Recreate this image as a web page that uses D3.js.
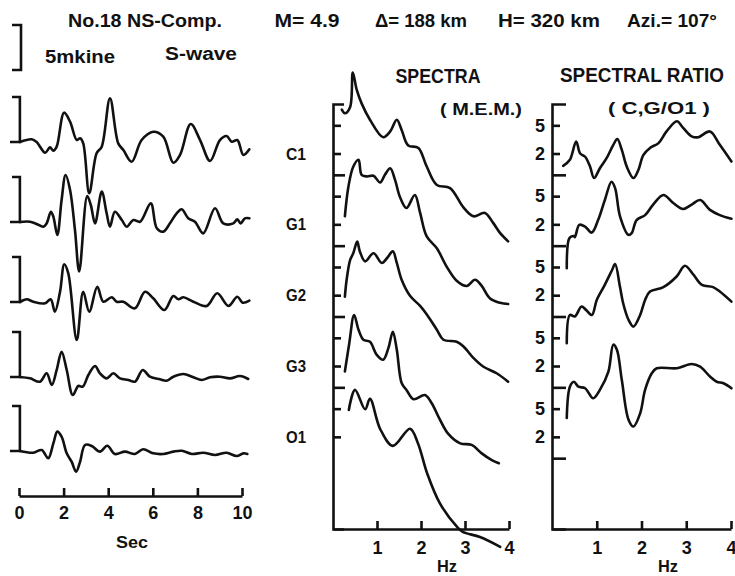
<!DOCTYPE html>
<html>
<head>
<meta charset="utf-8">
<script src="https://cdn.jsdelivr.net/npm/d3@7"></script>
<style>
  body { margin: 0; background: #fff; }
  text { font-family: "Liberation Sans", Arial, sans-serif; font-weight: bold; fill: #111; }
</style>
</head>
<body>
<svg id="fig" width="735" height="576"></svg>
<script>
// ---- data ----
var stations = ['C1', 'G1', 'G2', 'G3', 'O1'];

// S-wave records, [time (s), amplitude (mkine)]
var waveC1 = [[0.04,0],[0.57,0.3],[0.79,0],[1.17,-1.19],[1.39,-0.59],[1.54,-0.97],[1.69,-0.52],[2.02,3.26],[2.29,2.26],[2.59,0.22],[2.74,0.41],[2.88,-0.15],[3.15,-5.7],[3.48,-1.26],[3.71,-0.52],[4.08,4.85],[4.45,-0.15],[4.68,-0.89],[5.05,-2.19],[5.5,0.22],[6.02,1.14],[6.47,0.59],[6.92,-2.3],[7.22,-1.44],[7.7,2.0],[8.12,0.22],[8.57,-2.11],[9.01,0.22],[9.31,0.67],[9.54,0.03],[9.79,0.22],[10.06,-1.44],[10.33,-0.81]];
var waveG1 = [[0.04,0],[0.49,0.03],[0.79,-0.22],[1.09,-0.52],[1.24,-0.15],[1.43,1.14],[1.54,0.59],[1.72,-1.44],[1.91,2.44],[2.09,5.22],[2.29,3.56],[2.51,-0.89],[2.7,-5.5],[3.06,2.89],[3.22,1.89],[3.41,-0.15],[3.71,3.37],[3.93,0.97],[4.08,-0.52],[4.3,1.14],[4.61,0.22],[4.83,-0.52],[5.13,0.22],[5.43,0.03],[5.91,2.07],[6.18,-0.7],[6.47,-1.07],[6.77,-0.15],[7.07,0.97],[7.3,1.41],[7.59,0.41],[7.89,0.03],[8.26,-1.26],[8.79,1.52],[9.16,-0.15],[9.61,-0.15],[9.79,0.3],[9.94,-0.15],[10.13,0.41],[10.33,0.41]];
var waveG2 = [[0.04,0],[0.35,0.3],[0.64,0.03],[1.17,-0.15],[1.42,0.3],[1.61,-1.07],[1.84,1.14],[2.03,4.2],[2.21,3.19],[2.59,-4.22],[2.88,1.14],[3.15,-1.07],[3.51,1.7],[3.78,0.03],[4.16,0.52],[4.38,0.03],[4.68,0.03],[5.2,-0.7],[5.65,1.14],[6.02,0.41],[6.52,-0.89],[6.92,0.67],[7.15,0.3],[7.37,0.52],[7.82,0.03],[8.42,-0.44],[8.89,0.97],[9.39,-0.44],[9.79,0.59],[10.03,-0.07],[10.33,0.15]];
var waveG3 = [[0.04,0],[0.49,-0.15],[0.94,-0.52],[1.24,0.41],[1.47,-0.89],[1.69,0.78],[1.91,2.81],[2.14,0.78],[2.41,-2.0],[2.66,-1.0],[2.86,-1.07],[3.11,0.22],[3.41,1.22],[3.63,0.41],[3.93,-0.15],[4.23,0.41],[4.53,-0.15],[4.9,-0.33],[5.2,-0.52],[5.55,0.78],[5.87,0.03],[6.32,-0.26],[6.62,-0.41],[6.92,0.03],[7.37,0.33],[7.82,-0.03],[8.19,-0.33],[8.57,-0.03],[9.01,0.03],[9.46,-0.15],[9.91,0.11],[10.28,-0.22]];
var waveO1 = [[0.04,0],[0.64,-0.19],[1.02,0.11],[1.31,-0.81],[1.54,0.85],[1.72,2.15],[1.91,1.59],[2.14,-0.26],[2.36,-1.19],[2.56,-2.3],[2.74,-1.19],[2.96,0.67],[3.26,0.56],[3.63,-0.07],[3.96,0.59],[4.3,-0.33],[4.75,-0.07],[5.2,-0.33],[5.57,0.19],[6.02,-0.26],[6.47,-0.33],[6.92,-0.07],[7.3,0.03],[7.75,-0.33],[8.26,-0.19],[8.79,-0.44],[9.31,-0.19],[9.76,-0.56],[10.06,-0.26],[10.24,-0.33]];

// M.E.M. spectra, [frequency (Hz), relative amplitude]; each trace is shifted down one decade
var specC1 = [[0.2,8.3],[0.27,7.4],[0.39,9.1],[0.45,27.9],[0.54,15.8],[0.65,10.2],[0.84,6.0],[1.14,3.4],[1.3,4.1],[1.45,6.0],[1.56,4.3],[1.71,2.6],[1.94,2.4],[2.13,1.31],[2.36,0.72],[2.66,0.65],[2.96,0.35],[3.19,0.26],[3.45,0.29],[3.64,0.21],[3.8,0.15],[3.98,0.115]];
var specG1 = [[0.27,2.6],[0.35,6.8],[0.46,13.0],[0.58,16.3],[0.65,10.0],[0.77,9.5],[0.92,9.7],[1.07,7.8],[1.18,10.0],[1.3,12.4],[1.41,8.5],[1.52,4.9],[1.67,3.4],[1.86,5.2],[1.98,2.9],[2.13,1.35],[2.36,0.92],[2.58,0.51],[2.81,0.32],[3.04,0.27],[3.23,0.33],[3.38,0.27],[3.57,0.18],[3.8,0.156],[3.98,0.15]];
var specG2 = [[0.27,1.9],[0.31,3.3],[0.39,6.3],[0.46,7.8],[0.55,11.4],[0.61,8.3],[0.73,6.0],[0.92,7.8],[1.11,5.7],[1.23,6.7],[1.36,8.3],[1.45,5.7],[1.56,3.3],[1.75,1.96],[1.98,1.41],[2.14,1.05],[2.36,0.65],[2.51,0.47],[2.81,0.44],[2.96,0.38],[3.19,0.26],[3.42,0.195],[3.72,0.158],[3.98,0.12]];
var specG3 = [[0.27,1.67],[0.37,4.2],[0.48,10.5],[0.58,6.5],[0.69,4.7],[0.84,4.4],[0.99,2.9],[1.14,2.45],[1.26,3.6],[1.36,6.1],[1.45,3.4],[1.56,1.15],[1.67,0.92],[1.83,0.68],[2.09,0.78],[2.24,0.6],[2.43,0.35],[2.62,0.22],[2.89,0.162],[3.15,0.154],[3.38,0.117],[3.61,0.094],[3.77,0.085]];
var specO1 = [[0.36,4.8],[0.5,9.2],[0.73,4.9],[0.84,6.9],[1.07,2.6],[1.36,1.49],[1.75,2.6],[1.93,1.63],[2.14,0.61],[2.43,0.23],[2.82,0.107],[2.95,0.091],[3.34,0.077],[3.8,0.056]];

// spectral ratios to O1, [frequency (Hz), ratio]
var ratioC1 = [[0.25,1.34],[0.4,1.63],[0.54,2.95],[0.63,2.0],[0.74,1.8],[0.85,1.31],[0.94,0.9],[1.07,1.24],[1.22,1.72],[1.37,2.65],[1.46,3.2],[1.56,2.25],[1.67,1.31],[1.82,0.9],[1.93,1.17],[2.04,1.9],[2.19,2.4],[2.38,2.8],[2.56,4.1],[2.79,5.7],[2.93,4.6],[3.12,3.5],[3.27,3.4],[3.53,4.1],[3.75,2.65],[4.01,1.54]];
var ratioG1 = [[0.33,0.48],[0.39,1.28],[0.48,1.37],[0.51,1.32],[0.61,1.97],[0.74,1.86],[0.89,1.53],[1.03,2.3],[1.18,4.4],[1.33,8.0],[1.41,6.5],[1.52,2.6],[1.71,1.42],[1.78,1.5],[1.89,2.3],[2.08,2.7],[2.26,3.8],[2.49,5.2],[2.71,4.0],[2.93,3.3],[3.12,3.8],[3.31,4.4],[3.53,3.2],[3.75,2.7],[4.01,2.4]];
var ratioG2 = [[0.33,0.42],[0.4,1.05],[0.51,1.0],[0.66,1.38],[0.76,1.24],[0.89,1.05],[1.0,1.71],[1.18,2.8],[1.34,4.5],[1.41,5.5],[1.52,2.6],[1.59,1.54],[1.71,0.9],[1.82,0.72],[1.97,1.05],[2.08,1.71],[2.19,2.25],[2.49,2.6],[2.79,3.7],[2.97,5.2],[3.16,3.9],[3.35,2.8],[3.6,2.6],[3.75,2.25],[4.01,1.62]];
var ratioG3 = [[0.33,0.37],[0.4,1.02],[0.49,1.2],[0.59,1.02],[0.74,0.97],[0.92,0.7],[1.07,0.92],[1.26,1.67],[1.37,4.0],[1.45,3.4],[1.56,1.27],[1.71,0.35],[1.82,0.28],[1.97,0.43],[2.08,0.92],[2.23,1.58],[2.34,1.86],[2.79,1.86],[3.12,2.14],[3.31,1.96],[3.53,1.42],[3.68,1.2],[3.83,1.14],[4.01,0.97]];

var timeTicks = [0, 2, 4, 6, 8, 10];
var freqTicks = [1, 2, 3, 4];
var decadeMarks = [5, 2];   // labelled ticks inside each decade

var waves = [waveC1, waveG1, waveG2, waveG3, waveO1];
var spectra = [specC1, specG1, specG2, specG3, specO1];
var ratios = [ratioC1, ratioG1, ratioG2, ratioG3];

// ---- layout ----
var svg = d3.select('#fig');
var ink = '#111';
var lw = 2.6;

var traceBase = [142, 222, 302, 377, 451];
var xTime = d3.scaleLinear().domain([0, 10]).range([19, 242]);
var amp = d3.scaleLinear().domain([0, 5]).range([0, -45]);   // 5 mkine bracket
var xSpec = d3.scaleLinear().domain([0, 4]).range([333, 509]);
var xRat = d3.scaleLinear().domain([0, 4]).range([552, 731]);
// stacked log scale: u = log10(value) - k, one decade per trace
var yLog = d3.scaleLinear().domain([1, -5]).range([104, 529]);

function txt(s, x, y, size, len, anchor) {
  var t = svg.append('text')
    .attr('x', x).attr('y', y)
    .attr('font-size', size)
    .attr('text-anchor', anchor || 'middle')
    .text(s);
  if (len) t.attr('textLength', len).attr('lengthAdjust', 'spacingAndGlyphs');
  return t;
}

function styleAxis(g, size) {
  g.selectAll('path, line').attr('stroke', ink).attr('stroke-width', lw);
  g.selectAll('text').attr('font-size', size).attr('font-family', null).attr('fill', ink);
  g.attr('font-family', null);
}

// header
txt('No.18 NS-Comp.', 145, 27, 18, 154);
txt('M= 4.9', 307, 27, 18, 65);
txt('\u0394= 188 km', 421, 27, 18, 92);
txt('H= 320 km', 549, 27, 18, 102);
txt('Azi.= 107\u00b0', 672, 27, 18, 90);
txt('5mkine', 80, 63, 18, 70);
txt('S-wave', 201, 60, 18, 72);

// scale bar
svg.append('path')
  .attr('d', 'M12,' + 25 + 'H21V' + (25 - amp(5)) + 'H12')
  .attr('fill', 'none').attr('stroke', ink).attr('stroke-width', lw);

// waveforms
var wline = d3.line().curve(d3.curveCatmullRom.alpha(0.5));
waves.forEach(function(w, i) {
  var b = traceBase[i];
  // bracket + lead-in
  svg.append('path')
    .attr('d', 'M12,' + (b + amp(5)) + 'H' + xTime(0.04) + 'V' + b + 'H10')
    .attr('fill', 'none').attr('stroke', ink).attr('stroke-width', lw);
  svg.append('path')
    .attr('d', wline(w.map(function(p) { return [xTime(p[0]), b + amp(p[1])]; })))
    .attr('fill', 'none').attr('stroke', ink).attr('stroke-width', lw)
    .attr('stroke-linejoin', 'round').attr('stroke-linecap', 'round');
});

var gt = svg.append('g').attr('transform', 'translate(0,496)')
  .call(d3.axisBottom(xTime).tickValues(timeTicks).tickSize(-8).tickSizeOuter(0).tickPadding(10));
styleAxis(gt, 18);
txt('Sec', 132, 548, 17, 32);

// station labels
stations.forEach(function(s, k) {
  txt(s, 296, yLog(Math.log10(2) - k) + 6, 17, 20);
});

// shared y ticks
function decadeTicks(n) {
  var v = [];
  for (var k = 0; k < n; k++) decadeMarks.forEach(function(m) { v.push(Math.log10(m) - k); });
  return v;
}
function unitTicks(n) {
  return d3.range(n).map(function(k) { return -k; });
}

var sline = d3.line().curve(d3.curveCatmullRom.alpha(0.5));

// ---- spectra panel ----
txt('SPECTRA', 438, 83, 20, 85);
txt('( M.E.M.)', 481, 115, 17, 82);

var gsy = svg.append('g').attr('transform', 'translate(333,0)')
  .call(d3.axisLeft(yLog).tickValues(decadeTicks(5)).tickSize(-8).tickSizeOuter(-11).tickFormat(''));
styleAxis(gsy, 16);
var gsy2 = svg.append('g').attr('transform', 'translate(333,0)')
  .call(d3.axisLeft(yLog).tickValues(unitTicks(4)).tickSize(-12).tickSizeOuter(0).tickFormat(''));
styleAxis(gsy2, 16);
gsy2.select('.domain').remove();

var gsx = svg.append('g').attr('transform', 'translate(0,529)')
  .call(d3.axisBottom(xSpec).tickValues(freqTicks).tickSize(-8).tickSizeOuter(0).tickPadding(12)
    .tickFormat(d3.format('d')));
styleAxis(gsx, 18);
txt('Hz', 447, 572, 17, 20);

spectra.forEach(function(s, k) {
  svg.append('path')
    .attr('d', sline(s.map(function(p) { return [xSpec(p[0]), yLog(Math.log10(p[1]) - k)]; })))
    .attr('fill', 'none').attr('stroke', ink).attr('stroke-width', lw)
    .attr('stroke-linejoin', 'round').attr('stroke-linecap', 'round');
});

// ---- spectral ratio panel ----
txt('SPECTRAL RATIO', 642, 82, 20, 164);
txt('( C,G/O1 )', 659, 114, 17, 102);

var gry = svg.append('g').attr('transform', 'translate(552,0)')
  .call(d3.axisLeft(yLog).tickValues(decadeTicks(5)).tickSize(-8).tickSizeOuter(-14).tickPadding(7)
    .tickFormat(function(d) { return Math.round(Math.pow(10, d - Math.floor(d))); }));
styleAxis(gry, 18);
var gry2 = svg.append('g').attr('transform', 'translate(552,0)')
  .call(d3.axisLeft(yLog).tickValues(unitTicks(5)).tickSize(-14).tickSizeOuter(0).tickFormat(''));
styleAxis(gry2, 16);
gry2.select('.domain').remove();

var grx = svg.append('g').attr('transform', 'translate(0,529)')
  .call(d3.axisBottom(xRat).tickValues(freqTicks).tickSize(-8).tickSizeOuter(0).tickPadding(12)
    .tickFormat(d3.format('d')));
styleAxis(grx, 18);
// last label sits against the right edge of the page
grx.selectAll('.tick text').filter(function(d) { return d === 4; })
  .attr('text-anchor', 'end').attr('dx', 5);
txt('Hz', 668, 572, 17, 20);

ratios.forEach(function(r, k) {
  svg.append('path')
    .attr('d', sline(r.map(function(p) { return [xRat(p[0]), yLog(Math.log10(p[1]) - k)]; })))
    .attr('fill', 'none').attr('stroke', ink).attr('stroke-width', lw)
    .attr('stroke-linejoin', 'round').attr('stroke-linecap', 'round');
});
</script>
</body>
</html>
